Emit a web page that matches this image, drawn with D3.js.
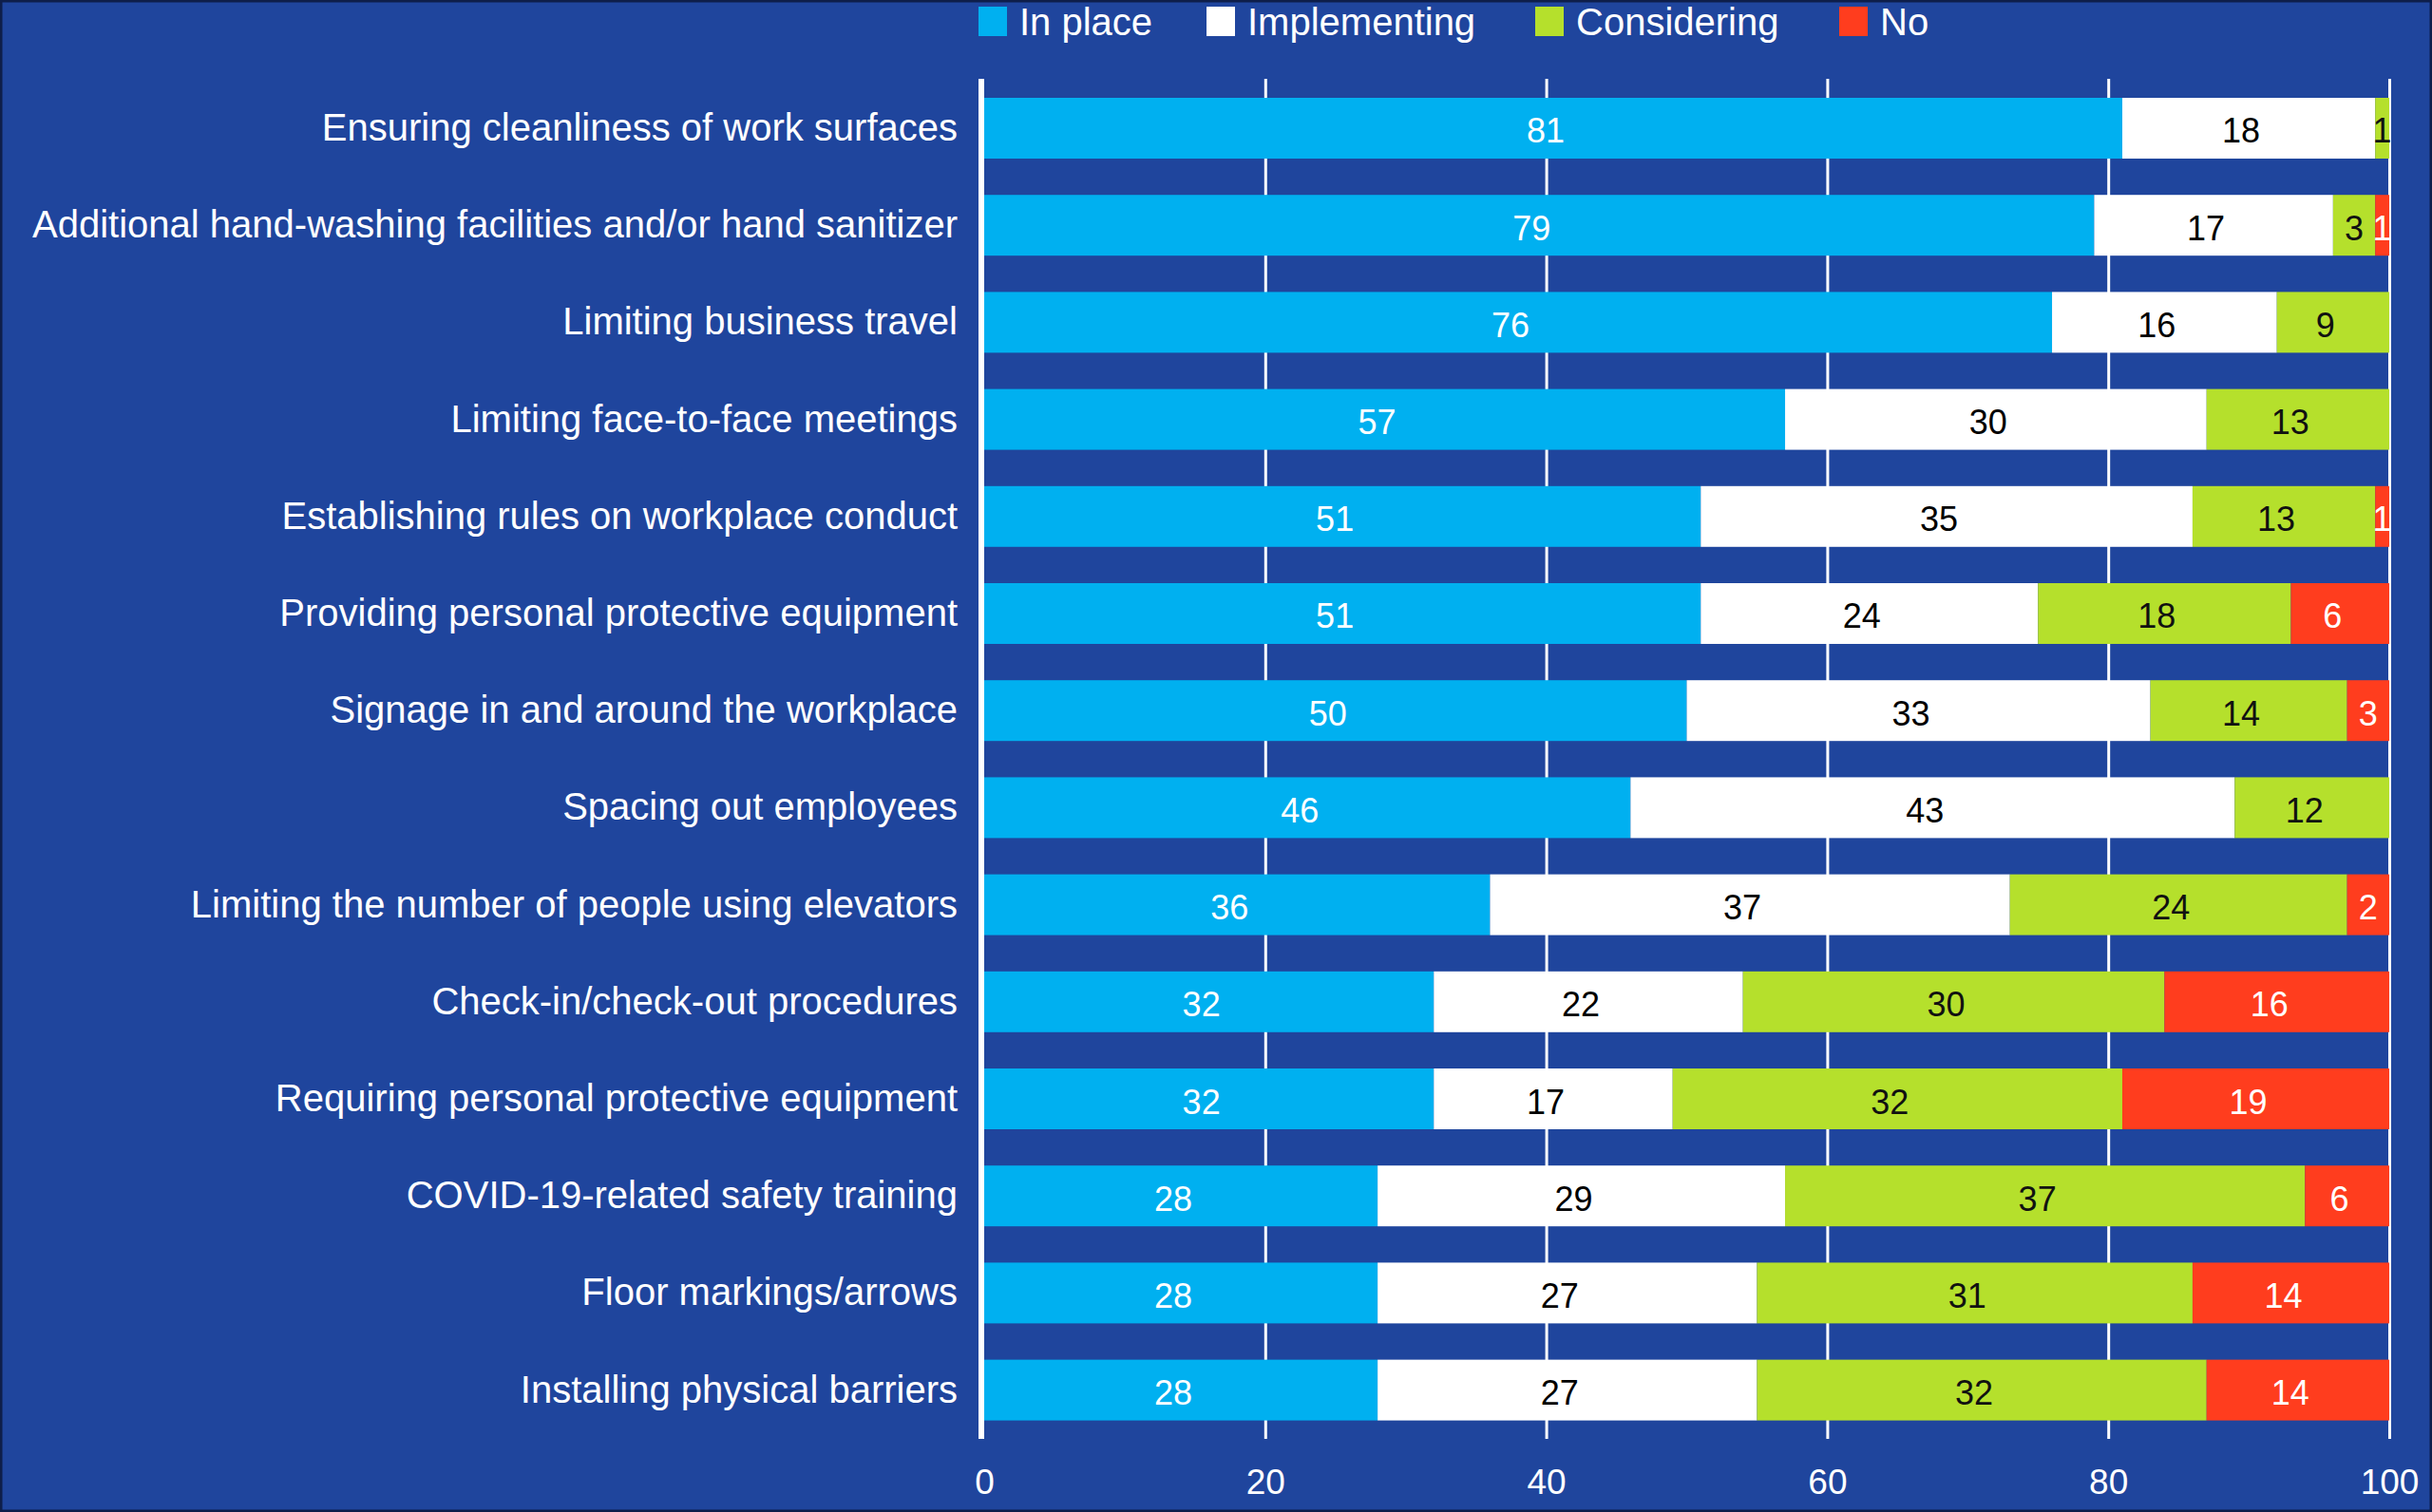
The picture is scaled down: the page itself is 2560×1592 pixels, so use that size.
<!DOCTYPE html>
<html><head><meta charset="utf-8">
<script src="https://cdn.jsdelivr.net/npm/d3@7"></script>
<style>
html,body{margin:0;padding:0;background:#1F459D;}
svg{display:block;}
text{font-family:"Liberation Sans",Arial,sans-serif;}
</style></head>
<body>
<svg id="chart" width="2560" height="1592"></svg>
<script>
const categories = [
  "Ensuring cleanliness of work surfaces",
  "Additional hand-washing facilities and/or hand sanitizer",
  "Limiting business travel",
  "Limiting face-to-face meetings",
  "Establishing rules on workplace conduct",
  "Providing personal protective equipment",
  "Signage in and around the workplace",
  "Spacing out employees",
  "Limiting the number of people using elevators",
  "Check-in/check-out procedures",
  "Requiring personal protective equipment",
  "COVID-19-related safety training",
  "Floor markings/arrows",
  "Installing physical barriers"
];
const seriesNames = ["In place", "Implementing", "Considering", "No"];
const inPlace      = [81, 79, 76, 57, 51, 51, 50, 46, 36, 32, 32, 28, 28, 28];
const implementing = [18, 17, 16, 30, 35, 24, 33, 43, 37, 22, 17, 29, 27, 27];
const considering  = [ 1,  3,  9, 13, 13, 18, 14, 12, 24, 30, 32, 37, 31, 32];
const no           = [ 0,  1,  0,  0,  1,  6,  3,  0,  2, 16, 19,  6, 14, 14];
const tickValues = [0, 20, 40, 60, 80, 100];

const colors = ["#00B0F0", "#FFFFFF", "#B5E02C", "#FF3D1E"];
const labelColors = ["#FFFFFF", "#000000", "#111111", "#FFFFFF"];

const rows = categories.map((c, i) => ({
  cat: c, "In place": inPlace[i], "Implementing": implementing[i],
  "Considering": considering[i], "No": no[i]
}));

const svg = d3.select("#chart");
const W = 2560, H = 1592;
svg.append("rect").attr("x", 1).attr("y", 1).attr("width", W - 2).attr("height", H - 2)
  .attr("fill", "#1F459D").attr("stroke", "#0E1E4A").attr("stroke-width", 3);

const x = d3.scaleLinear().domain([0, 100]).range([1036, 2515]);
const y = d3.scaleBand().domain(categories).range([103, 1495.6]).paddingInner(0.374).paddingOuter(0);
const axisTop = 83, axisBottom = 1515;

// gridlines
svg.append("g").attr("transform", `translate(0,${axisBottom})`)
  .call(d3.axisBottom(x).tickValues(tickValues.filter(v => v > 0))
    .tickSize(-(axisBottom - axisTop)).tickFormat(""))
  .call(g => g.select(".domain").remove())
  .call(g => g.selectAll("line").attr("stroke", "#FFFFFF").attr("stroke-width", 3));

// stacked data; percentages sum to 100, so each row's last segment closes at 100
const stack = d3.stack().keys(seriesNames)(rows);
rows.forEach((r, i) => {
  let last = -1;
  seriesNames.forEach((k, j) => { if (r[k] > 0) last = j; });
  stack.forEach((layer, j) => {
    const seg = layer[i];
    seg[0] = Math.min(100, seg[0]);
    seg[1] = Math.min(100, seg[1]);
    if (j === last) seg[1] = 100;
  });
});

const layers = svg.append("g").selectAll("g").data(stack).join("g")
  .attr("fill", (d, j) => colors[j]);
layers.selectAll("rect").data(d => d.map((s, i) => ({s, i, key: d.key})))
  .join("rect")
  .attr("x", d => x(d.s[0]))
  .attr("y", d => y(categories[d.i]))
  .attr("width", d => Math.max(0, x(d.s[1]) - x(d.s[0])))
  .attr("height", y.bandwidth());

// value labels
const lab = svg.append("g");
stack.forEach((layer, j) => {
  layer.forEach((s, i) => {
    const v = rows[i][layer.key];
    if (!v) return;
    const w = x(s[1]) - x(s[0]);
    lab.append("text")
      .attr("x", (x(s[0]) + x(s[1])) / 2 - (w > 60 ? 8 : 0))
      .attr("y", y(categories[i]) + y.bandwidth() / 2 + 3)
      .attr("text-anchor", "middle")
      .attr("dominant-baseline", "central")
      .attr("font-size", 36)
      .attr("fill", labelColors[j])
      .text(v);
  });
});

// zero axis line
svg.append("line").attr("x1", x(0) - 3).attr("x2", x(0) - 3)
  .attr("y1", axisTop).attr("y2", axisBottom)
  .attr("stroke", "#FFFFFF").attr("stroke-width", 6);

// category labels
svg.append("g").selectAll("text").data(categories).join("text")
  .attr("x", 1008)
  .attr("y", d => y(d) + y.bandwidth() / 2 - 1)
  .attr("text-anchor", "end")
  .attr("dominant-baseline", "central")
  .attr("font-size", 40)
  .attr("fill", "#FFFFFF")
  .text(d => d);

// tick labels
svg.append("g").attr("transform", `translate(0,${axisBottom})`)
  .call(d3.axisBottom(x).tickValues(tickValues).tickSize(0).tickPadding(32))
  .call(g => g.select(".domain").remove())
  .call(g => g.selectAll("text").attr("fill", "#FFFFFF").attr("font-size", 37)
    .attr("font-family", "Liberation Sans, Arial, sans-serif"));

// legend
const legendX = [1030, 1270, 1616, 1936];
const leg = svg.append("g").selectAll("g").data(seriesNames).join("g")
  .attr("transform", (d, j) => `translate(${legendX[j]},7)`);
leg.append("rect").attr("width", 30).attr("height", 31)
  .attr("fill", (d, j) => colors[j]);
leg.append("text").attr("x", 43).attr("y", 16)
  .attr("dominant-baseline", "central")
  .attr("font-size", 40).attr("fill", "#FFFFFF")
  .text(d => d);
</script>
</body></html>
